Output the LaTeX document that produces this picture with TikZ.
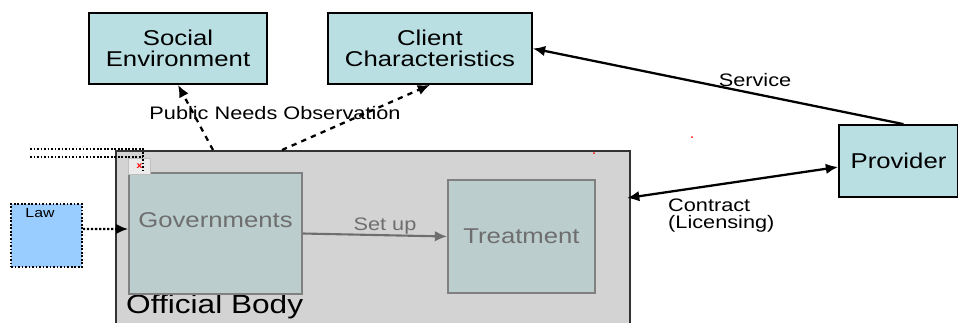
\documentclass[tikz,border=0pt]{standalone}
\usepackage{fontspec}
\setmainfont{Liberation Sans}[FakeStretch=1.2]
\usetikzlibrary{arrows.meta,calc}
\definecolor{boxcyan}{HTML}{B9DFE3}
\definecolor{innerbox}{HTML}{BCCDCD}
\definecolor{bodygray}{HTML}{D3D3D3}
\definecolor{lawblue}{HTML}{99CCFF}
\definecolor{textgray}{HTML}{6E6E6E}

\begin{document}
\begin{tikzpicture}[x=0.02cm, y=-0.02cm,
        topbox/.style={draw=black, line width=1pt, fill=boxcyan, align=center, inner sep=0pt, font=\fontsize{12.2}{11.6}\selectfont},
        inbox/.style={draw=gray, line width=1pt, fill=innerbox, inner sep=0pt},
        intext/.style={text=textgray, font=\fontsize{12.2}{14}\selectfont},
        small/.style={font=\fontsize{10.3}{9.4}\selectfont},
        dashline/.style={dashed, line width=1.3pt, -{Latex[length=7pt,width=6pt]}},
        solidline/.style={line width=1.3pt, -{Latex[length=7pt,width=6pt]}}]
        \clip (0,0) rectangle (958,322);
        % boxes on top and right
        \node[topbox, minimum width=3.56cm, minimum height=1.42cm] (social) at (178,48.5) {\rule{0pt}{2.5pt}Social\\Environment};
        \node[topbox, minimum width=4.08cm, minimum height=1.42cm] (client) at (430,48.5) {\rule{0pt}{2.5pt}Client\\Characteristics};
        \node[topbox, minimum width=2.38cm, minimum height=1.44cm] (provider) at (898.5,161) {Provider};
        % official body
        \node[draw=black!80, line width=1pt, fill=bodygray, minimum width=10.28cm, minimum height=4cm, anchor=north west] (body) at (115,150) {};
        \node[anchor=west, font=\fontsize{15}{16}\selectfont] (bodylabel) at (120,307) {Official Body};
        \node[inbox, minimum width=3.46cm, minimum height=2.42cm] (gov) at (215.5,233.5) {};
        \node[intext] (govlabel) at ([yshift=0.27cm]gov.center) {Governments};
        \node[inbox, minimum width=2.94cm, minimum height=2.26cm, intext] (treat) at (521.5,236.5) {Treatment};
        % law
        \node[draw=black, densely dotted, line width=1pt, fill=lawblue, minimum width=1.42cm, minimum height=1.26cm] (law) at (46.5,235.5) {};
        \node[font=\fontsize{7.5}{9}\selectfont] (lawlabel) at (40,213) {Law};
        % broken picture and dotted lines
        \node[draw=black!25, fill=black!8, minimum width=0.44cm, minimum height=0.32cm, inner sep=0pt, text=red, font=\tiny\bfseries] (icon) at (139.5,166) {x};
        \coordinate (d1) at (30,149);
        \coordinate (d2) at (143,149);
        \coordinate (d3) at (143,173);
        \coordinate (d4) at (30,157);
        \coordinate (d5) at (143,157);
        \draw[densely dotted, line width=1pt] (d1) -- (d2) -- (d3);
        \draw[densely dotted, line width=1pt] (d4) -- (d5);
        % red specks
        \fill[red] (692,137) circle (0.02cm);
        \fill[red] (594,153) circle (0.02cm);
        % connectors
        \coordinate (obs1) at (213,150);
        \coordinate (obs2) at (282,150);
        \coordinate (lic) at (627,198);
        \draw[dashline] (obs1) -- (social.south);
        \draw[dashline] (obs2) -- (client.south);
        \node[small] (obslabel) at (275,113) {Public Needs Observation};
        \draw[densely dotted, line width=1.3pt, -{Latex[length=7pt,width=6pt]}] ([yshift=0.13cm]law.east) -- ([yshift=0.09cm]gov.west);
        \draw[line width=1.2pt, draw=textgray, -{Latex[length=7pt,width=6pt]}] (gov.east) -- (treat.west);
        \node[small, text=textgray] (setup) at (385,226) {Set up};
        \draw[solidline] ([xshift=0.1cm]provider.north) -- (client.east);
        \node[small] (service) at (755,80) {Service};
        \draw[line width=1.3pt, {Latex[length=7pt,width=6pt]}-{Latex[length=7pt,width=6pt]}] (lic) -- ([yshift=-0.12cm]provider.west);
        \node[small, anchor=north west, align=left] (contract) at (662,193) {Contract\\(Licensing)};
    \end{tikzpicture}
\end{document}
